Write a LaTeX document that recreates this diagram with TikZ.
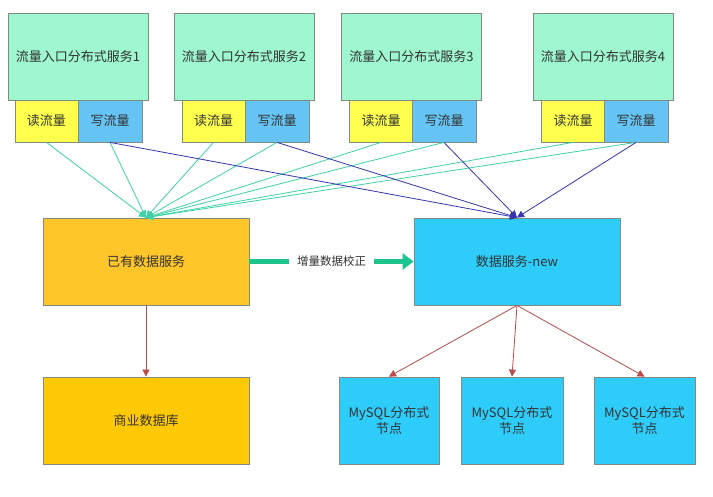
\documentclass[tikz,border=0pt]{standalone}
\usepackage{fontspec}
\setmainfont{Noto Sans CJK SC}
\usetikzlibrary{arrows.meta}
\definecolor{mint}{HTML}{9EF7CF}
\definecolor{rdy}{HTML}{FFFF4D}
\definecolor{wrb}{HTML}{66C4F5}
\definecolor{oldc}{HTML}{FFC629}
\definecolor{dbc}{HTML}{FFCA05}
\definecolor{newc}{HTML}{2ECCF9}
\definecolor{tealc}{HTML}{3DD2A6}
\definecolor{bluec}{HTML}{3535B0}
\definecolor{redc}{HTML}{B84B4B}
\definecolor{greenc}{HTML}{1CC48E}
\definecolor{txt}{HTML}{333333}
\definecolor{bord}{HTML}{7F8C7F}
\tikzset{
  box/.style={draw=bord, line width=0.8pt, text=txt, inner sep=0pt, align=center, font=\fontsize{13}{16}\selectfont},
  svc/.style={box, fill=mint, minimum width=140pt, minimum height=87pt},
  rdbox/.style={box, fill=rdy, minimum width=63pt, minimum height=42pt},
  wrbox/.style={box, fill=wrb, minimum width=64pt, minimum height=42pt},
  bigbox/.style={box, minimum width=206pt, minimum height=87pt},
  mybox/.style={box, fill=newc, minimum height=87pt},
  tl/.style={draw=tealc, line width=0.8pt, -{Triangle[width=7pt,length=7pt]}},
  bl/.style={draw=bluec, line width=0.8pt, -{Triangle[width=7pt,length=7pt]}},
  rl/.style={draw=redc, line width=0.8pt, -{Triangle[width=7pt,length=7pt]}},
}
\begin{document}
\begin{tikzpicture}[x=1pt,y=-1pt]
\useasboundingbox[fill=white] (0,0) rectangle (713,497);
% top services
\node[svc] (s1) at (78,56.5) {流量入口分布式服务1};
\node[svc] (s2) at (244,56.5) {流量入口分布式服务2};
\node[svc] (s3) at (411.5,56.5) {流量入口分布式服务3};
\node[svc] (s4) at (603,56.5) {流量入口分布式服务4};
\node[rdbox] (r1) at (46.5,121) {读流量};
\node[wrbox] (w1) at (110,121) {写流量};
\node[rdbox] (r2) at (213.5,121) {读流量};
\node[wrbox] (w2) at (277,121) {写流量};
\node[rdbox] (r3) at (381,121) {读流量};
\node[wrbox] (w3) at (444,121) {写流量};
\node[rdbox] (r4) at (573,121) {读流量};
\node[wrbox] (w4) at (636,121) {写流量};
% middle
\node[bigbox, fill=oldc] (old) at (146,261.5) {已有数据服务};
\node[bigbox, fill=newc] (new) at (517,261.5) {数据服务-new};
% bottom
\node[bigbox, fill=dbc] (db) at (146,420.5) {商业数据库};
\node[mybox, minimum width=100pt] (m1) at (389,420.5) {MySQL分布式\\节点};
\node[mybox, minimum width=102pt] (m2) at (512,420.5) {MySQL分布式\\节点};
\node[mybox, minimum width=101pt] (m3) at (644.5,420.5) {MySQL分布式\\节点};
% teal lines
\foreach \n in {r1,w1,r2,w2,r3,w3,r4,w4}{
  \draw[tl] (\n.south) -- (old.north);
}
% blue lines
\foreach \n in {w1,w2,w3,w4}{
  \draw[bl] (\n.south) -- (new.north);
}
% thick arrow
\draw[draw=greenc, line width=5pt, -{Triangle[width=16pt,length=11pt]}] (old.east) -- (new.west)
  node[midway, fill=white, text=txt, inner xsep=8pt, inner ysep=4pt, font=\fontsize{11.5}{14}\selectfont] (lab) {增量数据校正};
% red arrows
\draw[rl] (old.south) -- (db.north);
\draw[rl] (new.south) -- (m1.north);
\draw[rl] (new.south) -- (m2.north);
\draw[rl] (new.south) -- (m3.north);
\end{tikzpicture}
\end{document}
